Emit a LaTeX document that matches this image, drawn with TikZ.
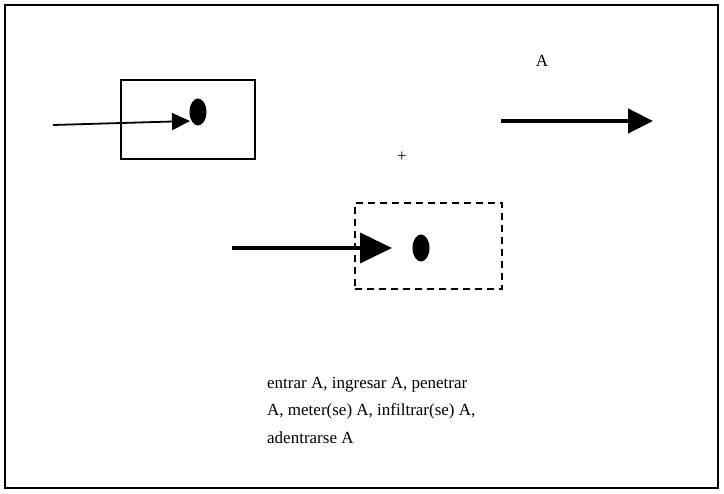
\documentclass[tikz,border=0pt]{standalone}
\usepackage{fontspec}
\setmainfont{Liberation Serif}
\usetikzlibrary{arrows.meta,shapes.geometric}
\tikzset{
  frame/.style={draw, line width=1.6pt},
  solidbox/.style={draw, line width=1.6pt, rectangle, inner sep=0pt},
  dashbox/.style={draw, line width=1.6pt, rectangle, inner sep=0pt, dash pattern=on 7pt off 5pt},
  blob/.style={fill=black, ellipse, inner sep=0pt, minimum width=17pt, minimum height=27pt},
  thinarrow/.style={line width=1.8pt, -{Triangle[length=18pt,width=17pt]}},
  thickarrow/.style={line width=4.5pt, -{Triangle[length=25pt,width=24pt]}},
  midarrow/.style={line width=3.8pt, -{Triangle[length=32pt,width=30pt]}},
  lbl/.style={inner sep=0pt, font=\fontsize{17}{27.5}\selectfont}
}
\begin{document}
\begin{tikzpicture}[x=1pt,y=-1pt]
\useasboundingbox (0,0) rectangle (724,494);
\node[frame, rectangle, minimum width=713pt, minimum height=483pt, inner sep=0pt] (outer) at (361.5,246.5) {};
% top-left box
\node[solidbox, minimum width=134pt, minimum height=79pt] (box1) at (188,119.5) {};
\node[blob] (dot1) at (198,112) {};
\coordinate (s1) at (53,125);
\coordinate (e1) at (190,121);
\draw[thinarrow] (s1) -- (e1);
% right arrow
\node[lbl] (A) at (542,61) {A};
\coordinate (s2) at (501,121);
\coordinate (e2) at (653,121);
\draw[thickarrow] (s2) -- (e2);
% plus
\node[lbl] (plus) at (402,157) {+};
% dashed box
\node[dashbox, minimum width=147pt, minimum height=86pt] (box2) at (428.5,246) {};
\node[blob] (dot2) at (421,248) {};
\coordinate (s3) at (232,248);
\coordinate (e3) at (392,248);
\draw[midarrow] (s3) -- (e3);
% text
\node[lbl, anchor=north west, align=left] (txt) at (267,377) {entrar A, ingresar A, penetrar\\A, meter(se) A, infiltrar(se) A,\\adentrarse A};
\end{tikzpicture}
\end{document}
